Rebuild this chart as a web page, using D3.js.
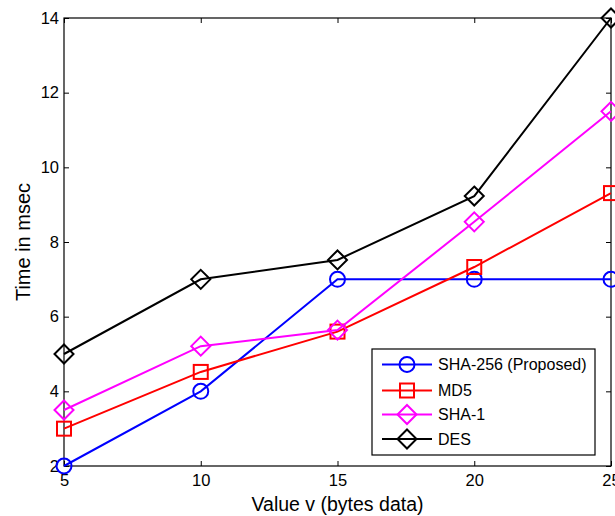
<!DOCTYPE html>
<html>
<head>
<meta charset="utf-8">
<script src="https://cdn.jsdelivr.net/npm/d3@7"></script>
<style>
  body { margin: 0; background: #fff; }
  svg { font-family: "Liberation Sans", Arial, sans-serif; }
</style>
</head>
<body>
<div id="chart"></div>
<script>
// data
var xValues = [5, 10, 15, 20, 25];
var sha256 = [2, 4, 7, 7, 7];
var md5 = [3, 4.52, 5.6, 7.33, 9.31];
var sha1 = [3.5, 5.21, 5.64, 8.54, 11.5];
var des = [5, 7, 7.52, 9.23, 14];
var seriesNames = ['SHA-256 (Proposed)', 'MD5', 'SHA-1', 'DES'];
var xTicks = [5, 10, 15, 20, 25];
var yTicks = [2, 4, 6, 8, 10, 12, 14];

var width = 615, height = 516;
var plotL = 64, plotR = 611, plotT = 18, plotB = 466;

var svg = d3.select('#chart').append('svg')
    .attr('width', width)
    .attr('height', height);

var x = d3.scaleLinear().domain([5, 25]).range([plotL, plotR]);
var y = d3.scaleLinear().domain([2, 14]).range([plotB, plotT]);

// axes box with inward ticks
function styleAxis(g) {
  g.select('.domain').remove();
  g.selectAll('line').attr('stroke', '#000');
  g.selectAll('text').attr('font-size', 16.5).attr('fill', '#000');
}
svg.append('g').attr('transform', 'translate(0,' + plotB + ')')
  .call(d3.axisBottom(x).tickValues(xTicks).tickSizeInner(-5).tickSizeOuter(0).tickPadding(8))
  .call(styleAxis);
svg.append('g').attr('transform', 'translate(0,' + plotT + ')')
  .call(d3.axisTop(x).tickValues(xTicks).tickSizeInner(-5).tickSizeOuter(0).tickFormat(''))
  .call(styleAxis);
svg.append('g').attr('transform', 'translate(' + plotL + ',0)')
  .call(d3.axisLeft(y).tickValues(yTicks).tickSizeInner(-5).tickSizeOuter(0).tickPadding(5))
  .call(styleAxis);
svg.append('g').attr('transform', 'translate(' + plotR + ',0)')
  .call(d3.axisRight(y).tickValues(yTicks).tickSizeInner(-5).tickSizeOuter(0).tickFormat(''))
  .call(styleAxis);
svg.append('rect')
  .attr('x', plotL).attr('y', plotT)
  .attr('width', plotR - plotL).attr('height', plotB - plotT)
  .attr('fill', 'none').attr('stroke', '#000').attr('stroke-width', 1.2);

// axis titles
svg.append('text')
  .attr('x', (plotL + plotR) / 2).attr('y', 511)
  .attr('text-anchor', 'middle').attr('font-size', 19.5)
  .text('Value v (bytes data)');
svg.append('text')
  .attr('transform', 'translate(30,' + ((plotT + plotB) / 2) + ') rotate(-90)')
  .attr('text-anchor', 'middle').attr('font-size', 20)
  .text('Time in msec');

var series = [
  { name: seriesNames[0], values: sha256, color: '#0000ff', marker: 'circle' },
  { name: seriesNames[1], values: md5, color: '#ff0000', marker: 'square' },
  { name: seriesNames[2], values: sha1, color: '#ff00ff', marker: 'diamond' },
  { name: seriesNames[3], values: des, color: '#000000', marker: 'diamond' }
];

function drawMarker(g, type, cx, cy, color) {
  if (type === 'circle') {
    g.append('circle').attr('cx', cx).attr('cy', cy).attr('r', 7.5)
      .attr('fill', 'none').attr('stroke', color).attr('stroke-width', 2);
  } else if (type === 'square') {
    g.append('rect').attr('x', cx - 7).attr('y', cy - 7).attr('width', 14).attr('height', 14)
      .attr('fill', 'none').attr('stroke', color).attr('stroke-width', 2);
  } else {
    var s = 9.5;
    g.append('path')
      .attr('d', 'M' + cx + ',' + (cy - s) + 'L' + (cx + s) + ',' + cy + 'L' + cx + ',' + (cy + s) + 'L' + (cx - s) + ',' + cy + 'Z')
      .attr('fill', 'none').attr('stroke', color).attr('stroke-width', 2);
  }
}

var line = d3.line()
  .x(function(d, i) { return x(xValues[i]); })
  .y(function(d) { return y(d); });

series.forEach(function(s) {
  var g = svg.append('g');
  g.append('path').attr('d', line(s.values))
    .attr('fill', 'none').attr('stroke', s.color).attr('stroke-width', 2);
  s.values.forEach(function(v, i) {
    drawMarker(g, s.marker, x(xValues[i]), y(v), s.color);
  });
});

// legend
var lg = svg.append('g');
lg.append('rect')
  .attr('x', 372).attr('y', 349).attr('width', 223).attr('height', 106)
  .attr('fill', '#fff').attr('stroke', '#000').attr('stroke-width', 1.2);
var rowY = [364.5, 390.5, 414.5, 439];
series.forEach(function(s, i) {
  var yy = rowY[i];
  lg.append('line').attr('x1', 382).attr('x2', 432).attr('y1', yy).attr('y2', yy)
    .attr('stroke', s.color).attr('stroke-width', 2);
  drawMarker(lg, s.marker, 407, yy, s.color);
  lg.append('text').attr('x', 438).attr('y', yy + 5.5)
    .attr('font-size', 16).text(s.name);
});
</script>
</body>
</html>
